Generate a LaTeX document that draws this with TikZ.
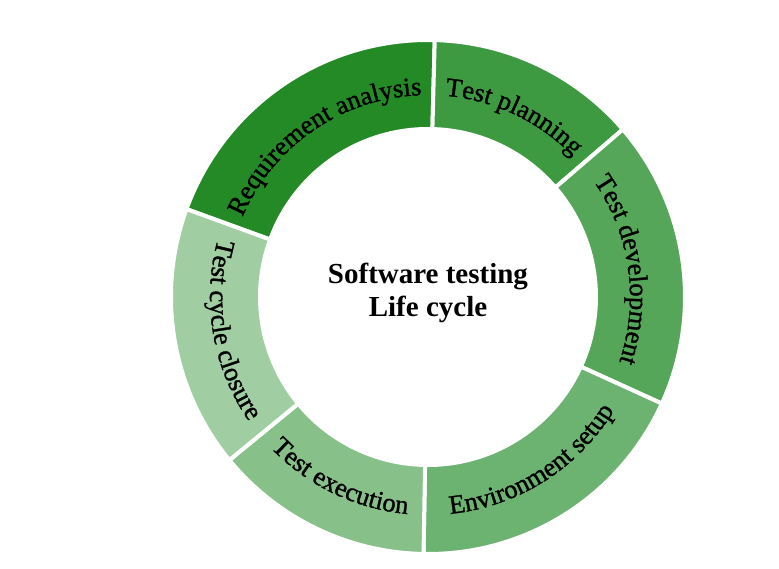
\documentclass[tikz,border=0pt]{standalone}
\usepackage{fontspec}
\setmainfont{Liberation Serif}
\newfontfamily\lblfam{Liberation Serif}[FakeBold=1.2]
\usetikzlibrary{decorations.text}
\definecolor{c_req}{HTML}{248A26}
\definecolor{c_plan}{HTML}{3D9A41}
\definecolor{c_dev}{HTML}{55A659}
\definecolor{c_env}{HTML}{6CB270}
\definecolor{c_exe}{HTML}{87C189}
\definecolor{c_clo}{HTML}{A0CEA2}
\newcommand{\lblfont}{\lblfam\fontsize{26.5}{26.5}\selectfont}
\tikzset{
  ringseg/.style = {draw=white, line width=4pt},% anneau, secteur
  lbl/.style = {decorate, decoration={text along path, text align=center,
    text={|\lblfont|#1}}},% texte le long de l'arc
  hub/.style = {align=center, inner sep=0pt,
    font=\fontsize{29}{33}\selectfont\bfseries}% titre central
}
\begin{document}
\begin{tikzpicture}
\useasboundingbox (-428pt,-272pt) rectangle (351pt,297pt);
% secteurs
\draw[ringseg, fill=c_req] (88.5:168pt) arc[start angle=88.5, end angle=160, radius=168pt]
  -- (160:257pt) arc[start angle=160, end angle=88.5, radius=257pt] -- cycle;
\draw[ringseg, fill=c_plan] (40.7:168pt) arc[start angle=40.7, end angle=88.5, radius=168pt]
  -- (88.5:257pt) arc[start angle=88.5, end angle=40.7, radius=257pt] -- cycle;
\draw[ringseg, fill=c_dev] (-24.5:168pt) arc[start angle=-24.5, end angle=40.7, radius=168pt]
  -- (40.7:257pt) arc[start angle=40.7, end angle=-24.5, radius=257pt] -- cycle;
\draw[ringseg, fill=c_env] (-91:168pt) arc[start angle=-91, end angle=-24.5, radius=168pt]
  -- (-24.5:257pt) arc[start angle=-24.5, end angle=-91, radius=257pt] -- cycle;
\draw[ringseg, fill=c_exe] (-140.6:168pt) arc[start angle=-140.6, end angle=-91, radius=168pt]
  -- (-91:257pt) arc[start angle=-91, end angle=-140.6, radius=257pt] -- cycle;
\draw[ringseg, fill=c_clo] (160:168pt) arc[start angle=160, end angle=219.4, radius=168pt]
  -- (219.4:257pt) arc[start angle=219.4, end angle=160, radius=257pt] -- cycle;
% libelles
\path[lbl={Requirement analysis}] (160:202pt) arc[start angle=160, end angle=88.5, radius=202pt];
\path[lbl={Test planning}] (88.5:202pt) arc[start angle=88.5, end angle=40.7, radius=202pt];
\path[lbl={Test development}] (40.7:202pt) arc[start angle=40.7, end angle=-24.5, radius=202pt];
\path[lbl={Environment setup}] (-91:218pt) arc[start angle=-91, end angle=-24.5, radius=218pt];
\path[lbl={Test execution}] (-140.6:218pt) arc[start angle=-140.6, end angle=-91, radius=218pt];
\path[lbl={Test cycle closure}] (160:218pt) arc[start angle=160, end angle=219.4, radius=218pt];
\node[hub] (title) at (0pt,4pt) {Software testing\\Life cycle};
\end{tikzpicture}
\end{document}
